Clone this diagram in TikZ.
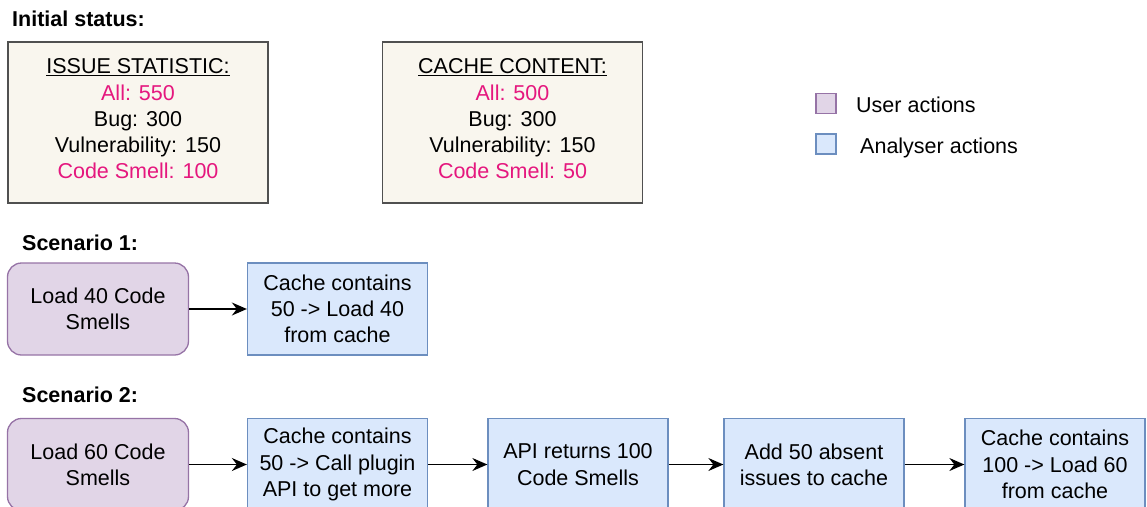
\documentclass[tikz,border=0pt]{standalone}
\usepackage{fontspec}
\setmainfont{Liberation Sans}
\usetikzlibrary{arrows.meta}

\definecolor{beigefill}{HTML}{F9F6EE}
\definecolor{beigeline}{HTML}{505050}
\definecolor{userfill}{HTML}{E1D5E7}
\definecolor{userline}{HTML}{9673A6}
\definecolor{anafill}{HTML}{DAE8FC}
\definecolor{analine}{HTML}{6C8EBF}
\definecolor{hilite}{HTML}{E5177E}

\begin{document}
\begin{tikzpicture}[x=1pt,y=-1pt,
  every node/.style={font=\fontsize{21.5}{26.25}\selectfont, inner sep=0pt},
  heading/.style={font=\fontsize{21.5}{26}\selectfont\bfseries, anchor=base west},
  statbox/.style={draw=beigeline, fill=beigefill, line width=1.6pt,
    minimum width=260pt, minimum height=161pt},
  stattext/.style={align=center},
  useract/.style={draw=userline, fill=userfill, line width=1.3pt,
    rounded corners=14pt, minimum width=181pt, minimum height=92pt, align=center},
  anaact/.style={draw=analine, fill=anafill, line width=1.3pt,
    minimum width=180pt, minimum height=92pt, align=center},
  swatch/.style={minimum size=20pt, line width=1.3pt},
  legendtext/.style={anchor=base west},
  flow/.style={-{Stealth[length=15pt,width=13pt,inset=5pt]}, line width=1.5pt, black}
]
\useasboundingbox (0,0) rectangle (1147,506);

% headings
\node[heading] (hinit) at (12,27) {Initial status:};
\node[heading] (hsc1) at (22,250) {Scenario 1:};
\node[heading] (hsc2) at (22,402) {Scenario 2:};

% initial status boxes
\node[statbox] (issues) at (138,122.5) {};
\node[stattext] (issuestxt) at (138,119) {\underline{ISSUE STATISTIC:}\\
  \textcolor{hilite}{All: 550}\\ Bug: 300\\ Vulnerability: 150\\
  \textcolor{hilite}{Code Smell: 100}};

\node[statbox] (cache) at (512.5,122.5) {};
\node[stattext] (cachetxt) at (512.5,119) {\underline{CACHE CONTENT:}\\
  \textcolor{hilite}{All: 500}\\ Bug: 300\\ Vulnerability: 150\\
  \textcolor{hilite}{Code Smell: 50}};

% legend
\node[swatch, draw=userline, fill=userfill] (keyuser) at (826,103.5) {};
\node[legendtext] (keyusertxt) at (856,112.5) {User actions};
\node[swatch, draw=analine, fill=anafill] (keyana) at (826,144) {};
\node[legendtext] (keyanatxt) at (860,153) {Analyser actions};

% scenario 1
\node[useract] (aa) at (98,309) {Load 40 Code\\ Smells};
\node[anaact] (ab) at (337.5,309) {Cache contains\\ 50 -> Load 40\\ from cache};
\draw[flow] (aa) -- (ab);

% scenario 2
\node[useract] (ba) at (98,464.5) {Load 60 Code\\ Smells};
\node[anaact] (bb) at (337.5,464.5) {Cache contains\\ 50 -> Call plugin\\ API to get more};
\node[anaact] (bc) at (578,464.5) {API returns 100\\ Code Smells};
\node[anaact] (bd) at (814,464.5) {Add 50 absent\\ issues to cache};
\node[anaact] (be) at (1055,464.5) {Cache contains\\ 100 -> Load 60\\ from cache};
\draw[flow] (ba) -- (bb);
\draw[flow] (bb) -- (bc);
\draw[flow] (bc) -- (bd);
\draw[flow] (bd) -- (be);
\end{tikzpicture}
\end{document}
